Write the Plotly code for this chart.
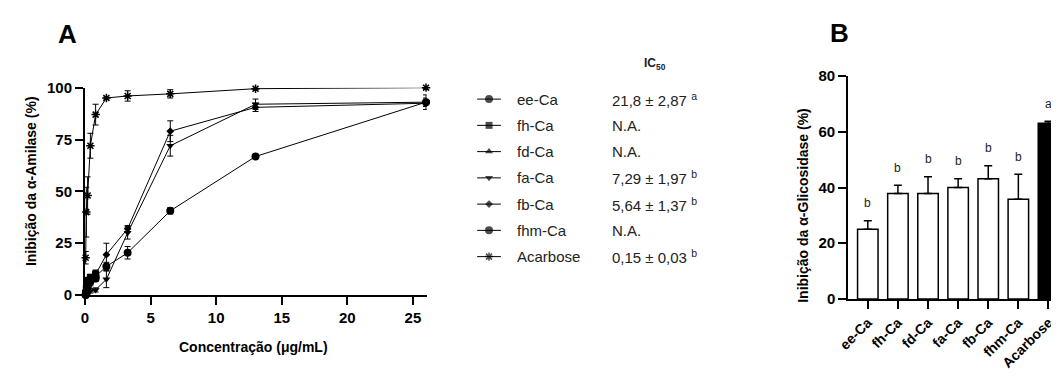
import plotly.graph_objects as go

# Page window is 1059x383; the HTML body has an 8px default margin,
# so the figure is made 8px smaller and coordinates are page pixels minus 8.
PAGE_W, PAGE_H = 1059, 383
OFF = 8
W, H = PAGE_W - OFF, PAGE_H - OFF
FONT = "Liberation Sans, Arial, sans-serif"

# ---------------- Panel A data ----------------
conc = [0.05, 0.1, 0.2, 0.41, 0.81, 1.63, 3.25, 6.5, 13, 26]
conc_low = [0.05, 0.1, 0.2, 0.41, 0.81]

ee_ca = [0, 1, 4, 8, 9, 13.8, 20.4, 40.6, 66.8, 93]
ee_ca_sd = [0.5, 1, 1.5, 2, 2, 2, 3, 1.5, 0.8, 3.5]
fh_ca = [1, 3, 7, 8.5, 10]
fh_ca_sd = [0.5, 1, 1.5, 1.5, 2]
fd_ca = [0.5, 2, 5, 7, 9]
fd_ca_sd = [0.5, 1, 1, 1.5, 2]
fa_ca = [0, 0.5, 1, 2, 2.5, 7.6, 30, 72, 92, 93]
fa_ca_sd = [0.5, 0.5, 0.5, 1, 1, 4, 3, 5, 2.5, 2]
fb_ca = [0.5, 1, 3, 6, 10, 19.5, 32, 79, 90.5, 92.5]
fb_ca_sd = [0.5, 1, 1, 1.5, 2, 5.5, 1.5, 5, 2, 1.5]
fhm_ca = [0, 1.5, 4, 6.5, 8]
fhm_ca_sd = [0.5, 1, 1, 1.5, 1.5]
acarbose = [18, 40, 48, 72, 87, 95, 96, 97, 99.5, 100]
acarbose_sd = [3, 12, 9, 6, 5, 0.5, 2.5, 2, 0.5, 0.5]

series_names = ["ee-Ca", "fh-Ca", "fd-Ca", "fa-Ca", "fb-Ca", "fhm-Ca", "Acarbose"]
series_x = [conc, conc_low, conc_low, conc, conc, conc_low, conc]
series_y = [ee_ca, fh_ca, fd_ca, fa_ca, fb_ca, fhm_ca, acarbose]
series_sd = [ee_ca_sd, fh_ca_sd, fd_ca_sd, fa_ca_sd, fb_ca_sd, fhm_ca_sd, acarbose_sd]
ic50_text = ["21,8 ± 2,87 <sup>a</sup>", "N.A.", "N.A.", "7,29 ± 1,97 <sup>b</sup>",
             "5,64 ± 1,37 <sup>b</sup>", "N.A.", "0,15 ± 0,03 <sup>b</sup>"]

# style per series (symbol, size)
symbols = ["circle", "square", "triangle-up", "triangle-down", "diamond", "circle", "asterisk-open"]
msizes = [8, 7, 7, 7, 6, 8, 7]

# ---------------- Panel B data ----------------
b_cats = ["ee-Ca", "fh-Ca", "fd-Ca", "fa-Ca", "fb-Ca", "fhm-Ca", "Acarbose"]
b_vals = [25, 37.9, 37.9, 40, 43.2, 35.8, 63.1]
b_sd = [3.1, 2.9, 6.0, 3.2, 4.6, 9.0, 0.7]
b_letters = ["b", "b", "b", "b", "b", "b", "a"]
b_fill = ["white"] * 6 + ["black"]


def px_x(p):
    return (p - OFF) / W


def px_y(p):
    return 1 - (p - OFF) / H


def note(text, x, y, size, angle=0, xanchor="center", color="black"):
    return dict(x=px_x(x), y=px_y(y), xref="paper", yref="paper", text=text, showarrow=False,
                xanchor=xanchor, yanchor="middle", textangle=angle,
                font=dict(family=FONT, size=size, color=color))


fig = go.Figure()

# Panel A traces
for i, name in enumerate(series_names):
    fig.add_trace(go.Scatter(
        x=series_x[i], y=series_y[i], mode="lines+markers", name=name,
        xaxis="x", yaxis="y", showlegend=False, cliponaxis=False,
        line=dict(color="black", width=1),
        marker=dict(symbol=symbols[i], size=msizes[i], color="black",
                    line=dict(color="black", width=1.5 if "open" in symbols[i] else 0)),
        error_y=dict(type="data", array=series_sd[i], color="black", thickness=1, width=3),
    ))

# Panel B bars
fig.add_trace(go.Bar(
    x=list(range(len(b_cats))), y=b_vals, xaxis="x2", yaxis="y2", showlegend=False,
    width=0.68, marker=dict(color=b_fill, line=dict(color="black", width=1.5)),
    error_y=dict(type="data", symmetric=False, array=b_sd, arrayminus=[0] * len(b_sd),
                 color="black", thickness=1.5, width=4),
))

# Letters above bars
annotations = []
for i, (v, s, l) in enumerate(zip(b_vals, b_sd, b_letters)):
    annotations.append(dict(x=i, y=v + s + 3, xref="x2", yref="y2", text=l, showarrow=False,
                            xanchor="center", yanchor="bottom",
                            font=dict(family=FONT, size=12, color="#222")))

# Manual legend (page-pixel overlay axis)
row_y0, row_dy = 94, 27.5
for i, name in enumerate(series_names):
    yy = row_y0 + i * row_dy
    fig.add_trace(go.Scatter(
        x=[471, 483, 495], y=[yy, yy, yy], xaxis="x3", yaxis="y3", mode="lines+markers",
        showlegend=False, hoverinfo="skip", cliponaxis=False,
        line=dict(color="black", width=1),
        marker=dict(symbol=symbols[i], size=[0, msizes[i], 0], color="black",
                    line=dict(color="black", width=1.5 if "open" in symbols[i] else 0)),
    ))
    annotations.append(note(name, 509, yy, 15, xanchor="left", color="#222"))
    annotations.append(note(ic50_text[i], 605, yy, 15, xanchor="left", color="#222"))

annotations.append(note("<b>IC<sub>50</sub></b>", 651, 57, 12, color="#222"))

# Panel labels
annotations.append(note("<b>A</b>", 57, 26, 26))
annotations.append(note("<b>B</b>", 837, 25, 26))

# Axis titles
annotations.append(note("<b>Inibição da α-Amilase (%)</b>", 20, 180, 14, angle=-90))
annotations.append(note("<b>Concentração (μg/mL)</b>", 245, 354, 14))
annotations.append(note("<b>Inibição da α-Glicosidase (%)</b>", 800, 205, 14, angle=-90))

tickfont = dict(family=FONT, size=15, color="black", weight="bold")
axis_common = dict(showgrid=False, zeroline=False, showline=True, linecolor="black", linewidth=2,
                   ticks="outside", ticklen=8, tickwidth=2, tickcolor="black", tickfont=tickfont)
axis_b_x = dict(axis_common)
axis_b_x["tickfont"] = dict(family=FONT, size=14, color="black", weight="bold")

fig.update_layout(
    width=W, height=H, margin=dict(l=0, r=0, t=0, b=0),
    paper_bgcolor="white", plot_bgcolor="rgba(0,0,0,0)",
    xaxis=dict(domain=[px_x(74.7), px_x(420)], range=[0, 26.05], anchor="y",
               tickvals=[0, 5, 10, 15, 20, 25], **axis_common),
    yaxis=dict(domain=[px_y(299.3), px_y(82)], range=[0, 100], anchor="x",
               tickvals=[0, 25, 50, 75, 100], **axis_common),
    xaxis2=dict(domain=[px_x(846), 1.0], range=[-0.65, 6.35], anchor="y2",
                tickvals=list(range(len(b_cats))), ticktext=b_cats, tickangle=-45, **axis_b_x),
    yaxis2=dict(domain=[px_y(303.3), px_y(70)], range=[0, 80], anchor="x2",
                tickvals=[0, 20, 40, 60, 80], **axis_common),
    xaxis3=dict(domain=[0, 1], range=[OFF, PAGE_W], visible=False, fixedrange=True, anchor="y3"),
    yaxis3=dict(domain=[0, 1], range=[PAGE_H, OFF], visible=False, fixedrange=True, anchor="x3"),
    annotations=annotations,
)

fig.write_html("out.html")
